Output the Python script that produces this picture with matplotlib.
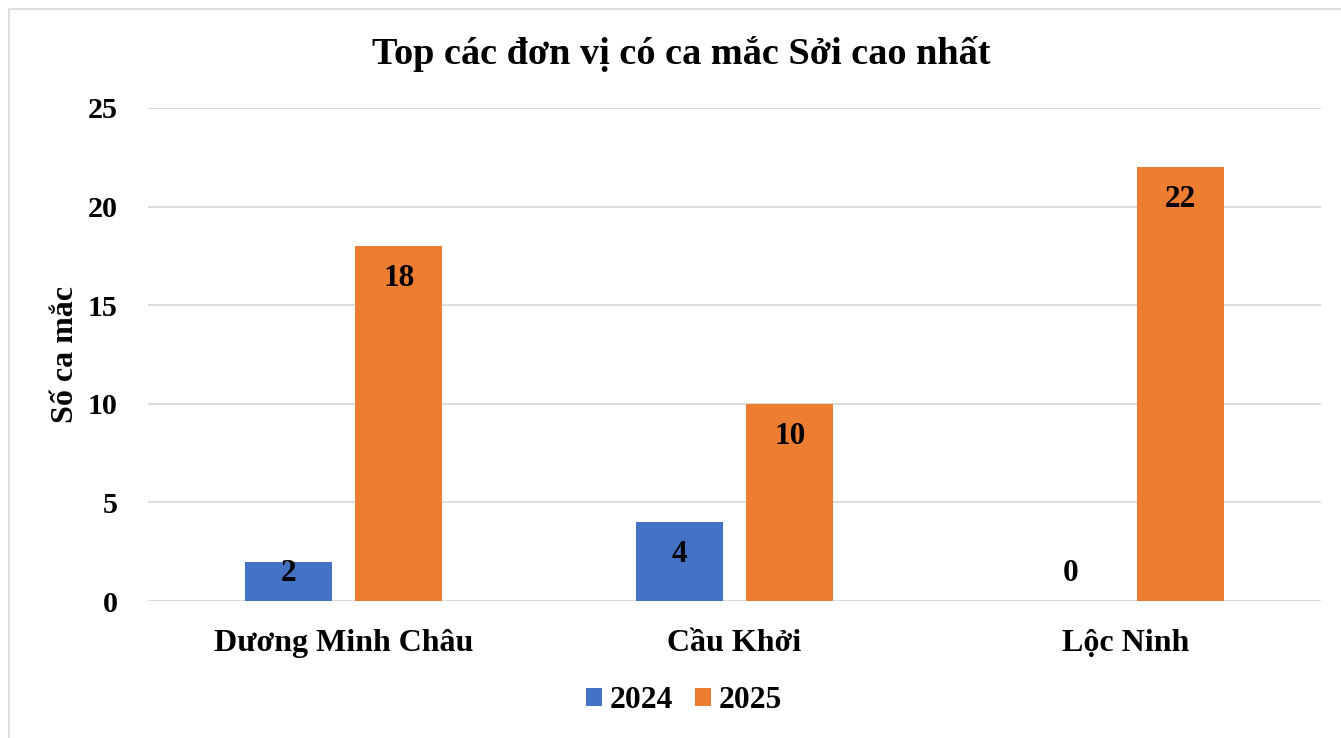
import numpy as np
import matplotlib.pyplot as plt
from matplotlib.patches import Rectangle

# Dữ liệu
don_vi = ["Dương Minh Châu", "Cầu Khởi", "Lộc Ninh"]
ca_2024 = [2, 4, 0]
ca_2025 = [18, 10, 22]

plt.rcParams['font.family'] = ['Liberation Serif', 'DejaVu Serif']
plt.rcParams['font.weight'] = 'bold'

fig = plt.figure(figsize=(13.41, 7.38), dpi=100)
W, H = 1341, 738
ax = fig.add_axes([148 / W, 1 - 601 / H, (1321 - 148) / W, (601 - 108) / H])

x = np.arange(len(don_vi))
w = 0.222
off = 0.1416
b1 = ax.bar(x - off, ca_2024, w, color='#4472C4', label='2024', zorder=3)
b2 = ax.bar(x + off, ca_2025, w, color='#ED7D31', label='2025', zorder=3)

for bars, vals in [(b1, ca_2024), (b2, ca_2025)]:
    for bar, v in zip(bars, vals):
        ax.text(bar.get_x() + bar.get_width() / 2, max(v - 1.65, 1.4), str(v),
                ha='center', va='center', fontsize=22.5, fontweight='bold', zorder=4)

ax.set_xlim(-0.5, 2.5)
ax.set_ylim(0, 25)
ax.set_yticks(range(0, 26, 5))
ax.set_xticks(x)
ax.set_xticklabels(don_vi)
ax.tick_params(axis='both', length=0)
ax.tick_params(axis='x', pad=20, labelsize=23)
ax.tick_params(axis='y', pad=22, labelsize=21.6)
ax.grid(axis='y', color='#D9D9D9', linewidth=1.3, zorder=0)
for s in ax.spines.values():
    s.set_visible(False)

ax.set_ylabel("Số ca mắc", fontsize=23, fontweight='bold')
ax.yaxis.set_label_coords((80 - 148) / (1321 - 148), 0.5)
fig.text(681 / W, 1 - 54 / H, "Top các đơn vị có ca mắc Sởi cao nhất",
         ha='center', va='center', fontsize=27.5, fontweight='bold')

fig.legend(loc='center', bbox_to_anchor=(684 / W, 1 - 701 / H), ncol=2,
           frameon=False, fontsize=22.7, handlelength=0.5, handleheight=0.5,
           handletextpad=0.25, columnspacing=0.7)

# khung viền biểu đồ
fig.patches.append(Rectangle((9 / W, -0.1), 2, 1.1 - 9 / H, transform=fig.transFigure,
                             fill=False, edgecolor='#D9D9D9', linewidth=1.2))

fig.savefig('out.png', dpi=100)
